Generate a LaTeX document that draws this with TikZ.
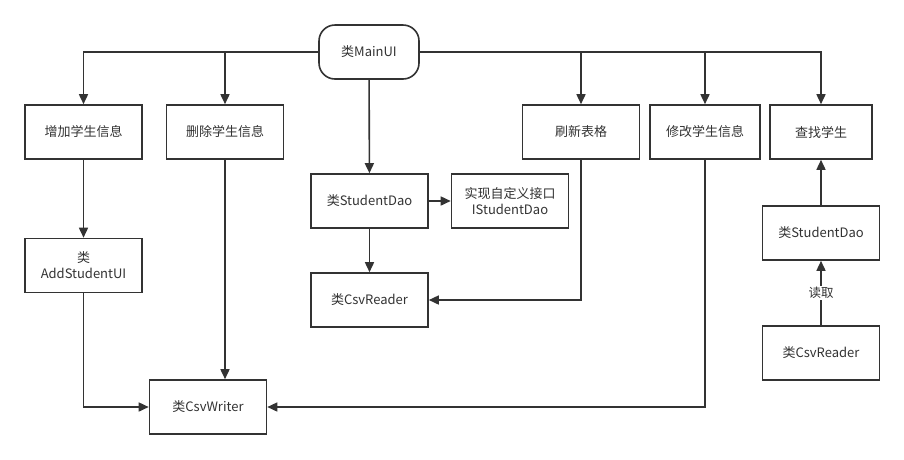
\documentclass[tikz,border=0pt]{standalone}
\usepackage{fontspec}
\setmainfont{Noto Sans CJK SC}
\usetikzlibrary{arrows.meta,positioning}
\definecolor{ln}{HTML}{333333}
\tikzstyle{blk}=[draw=ln, line width=1.6pt, fill=white, text=ln,
                minimum width=117pt, minimum height=54pt, align=center,
                font=\fontsize{13}{16}\selectfont]
\tikzstyle{start}=[blk, rounded corners=16pt, minimum width=100pt]
\tikzstyle{flow}=[draw=ln, line width=1.6pt, -{Triangle[length=10pt,width=9pt]}]
\tikzstyle{elabel}=[fill=white, text=ln, inner sep=1pt, font=\fontsize{12.5}{14}\selectfont]

\begin{document}
\begin{tikzpicture}[x=1pt, y=-1pt]
  \useasboundingbox (0,0) rectangle (904,459);
  \node[start] (main) at (369,52) {类MainUI};
  \node[blk] (add) at (83.5,132) {增加学生信息};
  \node[blk] (del) at (225,132) {删除学生信息};
  \node[blk] (refresh) at (581,132) {刷新表格};
  \node[blk, minimum width=110pt] (mod) at (705,132) {修改学生信息};
  \node[blk, minimum width=102pt] (find) at (821,132) {查找学生};
  \node[blk] (dao) at (369.5,201) {类StudentDao};
  \node[blk] (iface) at (510,201) {实现自定义接口\\IStudentDao};
  \node[blk] (reader) at (369.5,300) {类CsvReader};
  \node[blk] (addui) at (83.5,265.5) {类\\AddStudentUI};
  \node[blk] (writer) at (208,407) {类CsvWriter};
  \node[blk] (dao2) at (821,233) {类StudentDao};
  \node[blk] (reader2) at (821,353) {类CsvReader};
  % from the main window
  \draw[flow] (main.west) -| (add);
  \draw[flow] (main.west) -| (del);
  \draw[flow] (main) -- (dao);
  \draw[flow] (main.east) -| (refresh);
  \draw[flow] (main.east) -| (mod);
  \draw[flow] (main.east) -| (find);
  % dao side
  \draw[flow] (dao) -- (iface);
  \draw[flow] (dao) -- (reader);
  \draw[flow] (refresh) |- (reader);
  % writing
  \draw[flow] (add) -- (addui);
  \draw[flow] (addui) |- (writer);
  \draw[flow] (del.south) -- (del.south |- writer.north);
  \draw[flow] (mod) |- (writer);
  % search
  \draw[flow] (reader2) -- node[elabel] {读取} (dao2);
  \draw[flow] (dao2) -- (find);
\end{tikzpicture}
\end{document}
